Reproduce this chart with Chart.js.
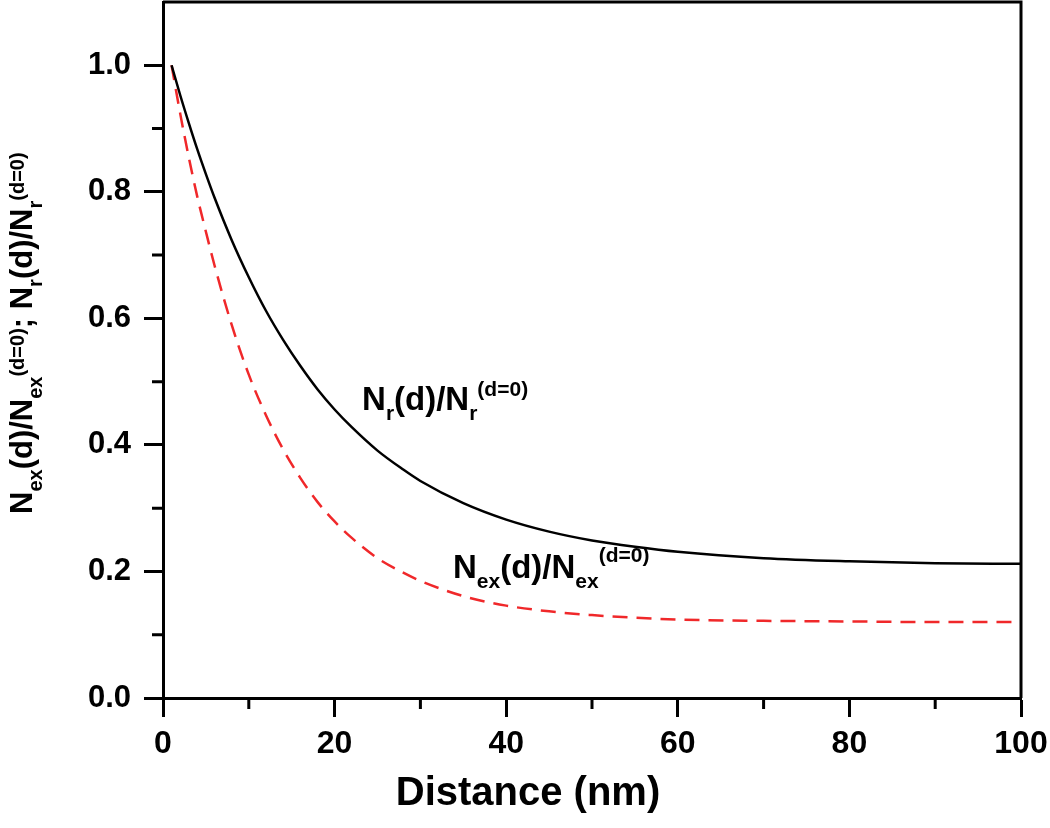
<!DOCTYPE html>
<html>
<head>
<meta charset="utf-8">
<script src="https://cdn.jsdelivr.net/npm/chart.js@4.4.1/dist/chart.umd.min.js"></script>
<style>
  html, body { margin: 0; padding: 0; background: #fff; }
  #wrap { width: 1050px; height: 828px; }
</style>
</head>
<body>
<div id="wrap"><canvas id="chart"></canvas></div>
<script>
// distance (nm) and normalised ratios
const distanceNm = [1, 2, 3, 4, 5, 6, 8, 10, 12, 14, 16, 18, 20, 22, 25, 28, 30, 35, 40, 45, 50, 55, 60, 70, 80, 90, 100];
const nrRatio = [1.000, 0.953, 0.909, 0.867, 0.828, 0.791, 0.724, 0.665, 0.612, 0.566, 0.525, 0.488, 0.456, 0.428, 0.391, 0.361, 0.343, 0.308, 0.282, 0.263, 0.249, 0.239, 0.231, 0.221, 0.216, 0.213, 0.212];
const nexRatio = [1.000, 0.924, 0.855, 0.792, 0.737, 0.684, 0.590, 0.511, 0.447, 0.393, 0.348, 0.310, 0.279, 0.253, 0.221, 0.198, 0.185, 0.161, 0.146, 0.137, 0.131, 0.127, 0.124, 0.122, 0.121, 0.120, 0.120];

const xMajorTicks = [0, 20, 40, 60, 80, 100];
const xMinorTicks = [10, 30, 50, 70, 90];
const yMajorTicks = [0, 0.2, 0.4, 0.6, 0.8, 1.0];
const yMinorTicks = [0.1, 0.3, 0.5, 0.7, 0.9];

const FONT = '"Liberation Sans", Arial, Helvetica, sans-serif';
const RED = '#f0282a';

// rich text pieces: m = main, sub = subscript, sup = superscript
const yTitleParts = [
  ['N', 'm'], ['ex', 'sub'], ['(d)/N', 'm'], ['ex', 'sub'], ['(d=0)', 'sup'],
  ['; N', 'm'], ['r', 'sub'], ['(d)/N', 'm'], ['r', 'sub'], ['(d=0)', 'sup'],
];
const nrLabelParts = [['N', 'm'], ['r', 'sub'], ['(d)/N', 'm'], ['r', 'sub'], ['(d=0)', 'sup']];
const nexLabelParts = [['N', 'm'], ['ex', 'sub'], ['(d)/N', 'm'], ['ex', 'sub'], ['(d=0)', 'sup']];

function drawRich(ctx, parts, x0, y0, big, small, subDy, supDy) {
  let cx = x0;
  ctx.textBaseline = 'alphabetic';
  ctx.textAlign = 'left';
  parts.forEach(([t, kind]) => {
    ctx.font = `bold ${kind === 'm' ? big : small}px ${FONT}`;
    let dy = 0;
    if (kind === 'sub') dy = subDy;
    if (kind === 'sup') dy = supDy;
    ctx.fillText(t, cx, y0 + dy);
    cx += ctx.measureText(t).width;
  });
}

const extras = {
  id: 'extras',
  afterDraw(chart) {
    const { ctx, chartArea: a, scales: { x, y } } = chart;
    ctx.save();
    ctx.strokeStyle = '#000';
    ctx.lineWidth = 3;
    ctx.beginPath();
    ctx.moveTo(a.left, a.top);
    ctx.lineTo(a.right, a.top);
    ctx.lineTo(a.right, a.bottom);
    ctx.stroke();

    // minor ticks
    ctx.beginPath();
    xMinorTicks.forEach(v => {
      const px = x.getPixelForValue(v);
      ctx.moveTo(px, a.bottom);
      ctx.lineTo(px, a.bottom + 11);
    });
    yMinorTicks.forEach(v => {
      const py = y.getPixelForValue(v);
      ctx.moveTo(a.left, py);
      ctx.lineTo(a.left - 11, py);
    });
    ctx.stroke();

    ctx.fillStyle = '#000';
    // curve labels
    drawRich(ctx, nrLabelParts, x.getPixelForValue(23.2), y.getPixelForValue(0.455), 33, 21, 10, -14);
    drawRich(ctx, nexLabelParts, x.getPixelForValue(33.8), y.getPixelForValue(0.19), 33, 21, 10, -16);

    // x title
    ctx.font = `bold 40px ${FONT}`;
    ctx.textAlign = 'center';
    ctx.textBaseline = 'alphabetic';
    ctx.fillText('Distance (nm)', 528, 805);

    // y title (rotated)
    ctx.translate(32, 514);
    ctx.rotate(-Math.PI / 2);
    drawRich(ctx, yTitleParts, 0, 0, 31, 20, 10, -8);
    ctx.restore();
  }
};

new Chart(document.getElementById('chart'), {
  type: 'line',
  data: {
    datasets: [
      {
        label: 'Nr',
        data: distanceNm.map((d, i) => ({ x: d, y: nrRatio[i] })),
        borderColor: '#000',
        borderWidth: 2.5,
        pointRadius: 0,
        cubicInterpolationMode: 'monotone',
        fill: false,
      },
      {
        label: 'Nex',
        data: distanceNm.map((d, i) => ({ x: d, y: nexRatio[i] })),
        borderColor: RED,
        borderWidth: 2.5,
        borderDash: [15, 9],
        pointRadius: 0,
        cubicInterpolationMode: 'monotone',
        fill: false,
      },
    ],
  },
  options: {
    responsive: true,
    maintainAspectRatio: false,
    animation: false,
    layout: { padding: { top: 2, right: 29, left: 0, bottom: 0 } },
    plugins: {
      legend: { display: false },
      tooltip: { enabled: false },
    },
    scales: {
      x: {
        type: 'linear',
        min: 0,
        max: 100,
        afterBuildTicks: s => { s.ticks = xMajorTicks.map(v => ({ value: v })); },
        afterFit: s => { s.height = 130; s.paddingLeft = 0; s.paddingRight = 0; },
        ticks: {
          color: '#000',
          font: { family: FONT, size: 32, weight: 'bold' },
          padding: 8,
          maxRotation: 0,
          callback: v => String(v),
        },
        grid: {
          drawOnChartArea: false,
          drawTicks: true,
          tickLength: 19,
          tickWidth: 3,
          tickColor: '#000',
        },
        border: { display: true, color: '#000', width: 3 },
      },
      y: {
        type: 'linear',
        min: 0,
        max: 1.1,
        afterBuildTicks: s => { s.ticks = yMajorTicks.map(v => ({ value: v })); },
        afterFit: s => { s.width = 163; s.paddingTop = 0; s.paddingBottom = 0; },
        ticks: {
          color: '#000',
          font: { family: FONT, size: 31, weight: 'bold' },
          padding: 13,
          callback: v => v.toFixed(1),
        },
        grid: {
          drawOnChartArea: false,
          drawTicks: true,
          tickLength: 19,
          tickWidth: 3,
          tickColor: '#000',
        },
        border: { display: true, color: '#000', width: 3 },
      },
    },
  },
  plugins: [extras],
});
</script>
</body>
</html>
